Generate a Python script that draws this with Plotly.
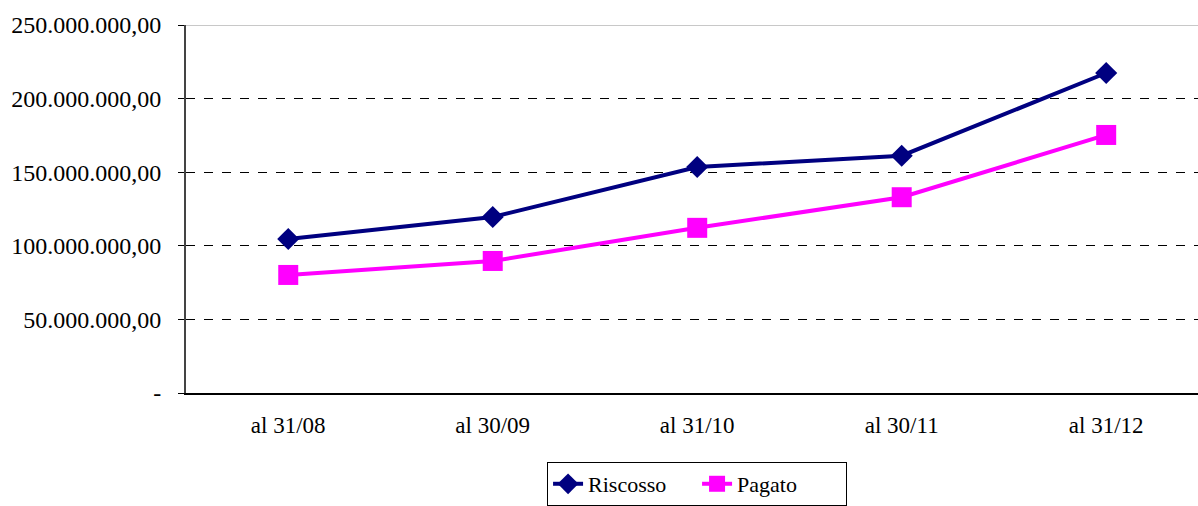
import plotly.graph_objects as go

categories = ["al 31/08", "al 30/09", "al 31/10", "al 30/11", "al 31/12"]
riscosso = [104.6e6, 119.6e6, 153.5e6, 161.2e6, 217.4e6]
pagato = [80.2e6, 89.7e6, 112.2e6, 133.0e6, 175.3e6]
y_tickvals = [0, 50e6, 100e6, 150e6, 200e6, 250e6]
y_ticktext = ["-", "50.000.000,00", "100.000.000,00", "150.000.000,00",
              "200.000.000,00", "250.000.000,00"]

FONT = "Liberation Serif"

fig = go.Figure()
fig.add_trace(go.Scatter(
    x=categories, y=riscosso, name="Riscosso", mode="lines+markers",
    line=dict(color="#000080", width=4),
    marker=dict(symbol="diamond", size=17, color="#000080"),
))
fig.add_trace(go.Scatter(
    x=categories, y=pagato, name="Pagato", mode="lines+markers",
    line=dict(color="#FF00FF", width=4),
    marker=dict(symbol="square", size=20, color="#FF00FF"),
))

fig.add_shape(type="line", xref="paper", yref="y", x0=0, x1=1,
              y0=y_tickvals[-1], y1=y_tickvals[-1],
              line=dict(color="#C8C8C8", width=2), layer="above")

fig.update_layout(
    width=1198, height=506,
    margin=dict(l=186, r=0, t=25, b=113),
    paper_bgcolor="white", plot_bgcolor="white",
    font=dict(family=FONT, size=23, color="black"),
    showlegend=True,
    legend=dict(orientation="h", x=0.505, xanchor="center", y=-0.307, yanchor="bottom",
                bordercolor="black", borderwidth=1, font=dict(size=22, family=FONT),
                entrywidth=104, tracegroupgap=0, bgcolor="white"),
    xaxis=dict(type="category", range=[-0.5, 4.449], showgrid=False,
               showline=True, linecolor="black", linewidth=2, ticks="",
               ticklabelstandoff=10,
               tickfont=dict(size=23, family=FONT), zeroline=False, fixedrange=True),
    yaxis=dict(range=[0, 250e6], tickvals=y_tickvals, ticktext=y_ticktext,
               showgrid=True, gridcolor="black", gridwidth=1, griddash="dash",
               showline=True, linecolor="#444444", linewidth=2,
               ticks="outside", ticklen=6, tickcolor="black",
               ticklabelstandoff=12,
               tickfont=dict(size=24, family=FONT), zeroline=False, fixedrange=True),
)

fig.write_html("out.html", config={"displayModeBar": False},
               post_script="document.body.style.margin='0';document.body.style.overflow='hidden';")
